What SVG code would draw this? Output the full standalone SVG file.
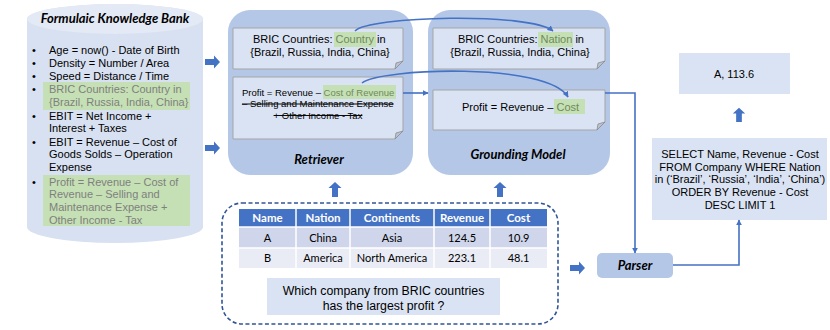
<svg xmlns="http://www.w3.org/2000/svg" width="830" height="330" viewBox="0 0 830 330">
<style>
.t{font-family:"Liberation Sans",Arial,sans-serif;font-size:11px;fill:#000}
.g{fill:#7f7f7f}
.gg{fill:#6f8a5c}
.lbl{font-family:Lato,"Open Sans",sans-serif;font-weight:bold;font-style:italic;font-size:13px;fill:#000}
.hl{fill:#c5e0b4}
.panel{fill:#b4c7e7}
.card{fill:#dae3f3;stroke:#a5a5a5;stroke-width:1}
.fold{fill:#b9c3d3;stroke:#8c8c8c;stroke-width:0.8}
.ba{fill:#4472c4}
.ln{fill:none;stroke:#4472c4;stroke-width:1.6}
.th{font-family:Lato,"Open Sans",sans-serif;font-weight:bold;font-size:11.5px;fill:#fff}
.td{font-family:Lato,"Open Sans",sans-serif;font-size:11px;fill:#000}
.st{text-decoration:line-through}
</style>
<defs>
<path id="ar" d="M0,-3 H9 V-6.5 L15,0 L9,6.5 V3 H0 Z"/>
<marker id="mk" viewBox="0 0 10 10" refX="9" refY="5" markerWidth="6" markerHeight="6" markerUnits="userSpaceOnUse" orient="auto">
<path d="M0,0 L10,5 L0,10 Z" fill="#4472c4"/>
</marker>
</defs>

<g id="knowledge-bank">
<path d="M27,19 A88,15 0 0 1 203,19 V227 A88,16 0 0 1 27,227 Z" fill="#d8e1f2"/>
<ellipse cx="115" cy="19" rx="88" ry="15" fill="#e3e9f5"/>
<text class="lbl" x="115" y="23" text-anchor="middle">Formulaic Knowledge Bank</text>
<rect class="hl" x="43" y="82" width="147" height="28"/>
<rect class="hl" x="43" y="175" width="147" height="51"/>
<g class="t">
<text class="t" x="32" y="54">•</text><text class="t" x="49" y="54">Age = now() - Date of Birth</text>
<text class="t" x="32" y="67">•</text><text class="t" x="49" y="67">Density = Number / Area</text>
<text class="t" x="32" y="80">•</text><text class="t" x="49" y="80">Speed = Distance / Time</text>
<text class="t" x="32" y="93">•</text><text class="t g" x="49" y="93">BRIC Countries: Country in</text>
<text class="t g" x="49" y="106">{Brazil, Russia, India, China}</text>
<text class="t" x="32" y="120">•</text><text class="t" x="49" y="120">EBIT = Net Income +</text>
<text class="t" x="49" y="132">Interest + Taxes</text>
<text class="t" x="32" y="146">•</text><text class="t" x="49" y="146">EBIT = Revenue – Cost of</text>
<text class="t" x="49" y="158">Goods Solds – Operation</text>
<text class="t" x="49" y="171">Expense</text>
<text class="t" x="32" y="186">•</text><text class="t g" x="49" y="186">Profit = Revenue – Cost of</text>
<text class="t g" x="49" y="198">Revenue – Selling and</text>
<text class="t g" x="49" y="211">Maintenance Expense +</text>
<text class="t g" x="49" y="224">Other Income - Tax</text>
</g>
</g>

<g id="retriever">
<rect class="panel" x="228" y="10" width="185" height="165" rx="22"/>
<path class="card" d="M233,28 H403 V61 L395,69 H233 Z"/>
<path class="fold" d="M403,61 L396,63 L395,69 Z"/>
<rect class="hl" x="334" y="32" width="42" height="15"/>
<text class="t" x="253" y="43">BRIC Countries: <tspan class="gg">Country</tspan> in</text>
<text class="t" x="320" y="56" text-anchor="middle">{Brazil, Russia, India, China}</text>
<path class="card" d="M233,77 H403 V131 L395,139 H233 Z"/>
<path class="fold" d="M403,131 L396,133 L395,139 Z"/>
<rect class="hl" x="323" y="85" width="73" height="14"/>
<text class="t" style="font-size:9.5px" x="242" y="95.5">Profit = Revenue – <tspan class="gg">Cost of Revenue</tspan></text>
<text class="t st" style="font-size:9.5px" x="242" y="107">– Selling and Maintenance Expense</text>
<text class="t st" style="font-size:9.5px" x="318" y="118.5" text-anchor="middle">+ Other Income - Tax</text>
<text class="lbl" x="319" y="164" text-anchor="middle">Retriever</text>
</g>

<g id="grounding-model">
<rect class="panel" x="428" y="10" width="182" height="165" rx="22"/>
<path class="card" d="M433,28 H605 V61 L597,69 H433 Z"/>
<path class="fold" d="M605,61 L598,63 L597,69 Z"/>
<rect class="hl" x="538" y="32" width="35" height="15"/>
<text class="t" x="458" y="43">BRIC Countries: <tspan class="gg">Nation</tspan> in</text>
<text class="t" x="520" y="56" text-anchor="middle">{Brazil, Russia, India, China}</text>
<path class="card" d="M433,90 H605 V122 L597,130 H433 Z"/>
<path class="fold" d="M605,122 L598,124 L597,130 Z"/>
<rect class="hl" x="554" y="99" width="31" height="15"/>
<text class="t" x="462" y="111">Profit = Revenue – <tspan class="gg">Cost</tspan></text>
<text class="lbl" x="518" y="159" text-anchor="middle">Grounding Model</text>
</g>

<g id="input">
<rect x="222" y="203" width="336" height="121" rx="20" fill="none" stroke="#2f5597" stroke-width="1.6" stroke-dasharray="4,2.5"/>
<rect x="239" y="209" width="308" height="18" fill="#4472c4"/>
<rect x="239" y="227" width="308" height="21" fill="#cfd5ea"/>
<rect x="239" y="248" width="308" height="20" fill="#e9ebf5"/>
<g stroke="#fff" stroke-width="1.5">
<line x1="239" y1="227" x2="547" y2="227"/>
<line x1="239" y1="248" x2="547" y2="248"/>
<line x1="296" y1="209" x2="296" y2="268"/>
<line x1="350" y1="209" x2="350" y2="268"/>
<line x1="434" y1="209" x2="434" y2="268"/>
<line x1="490" y1="209" x2="490" y2="268"/>
</g>
<g text-anchor="middle">
<text class="th" x="267.5" y="222">Name</text>
<text class="th" x="323" y="222">Nation</text>
<text class="th" x="392" y="222">Continents</text>
<text class="th" x="462" y="222">Revenue</text>
<text class="th" x="518.5" y="222">Cost</text>
<text class="td" x="267.5" y="241.5">A</text>
<text class="td" x="323" y="241.5">China</text>
<text class="td" x="392" y="241.5">Asia</text>
<text class="td" x="462" y="241.5">124.5</text>
<text class="td" x="518.5" y="241.5">10.9</text>
<text class="td" x="267.5" y="261.5">B</text>
<text class="td" x="323" y="261.5">America</text>
<text class="td" x="392" y="261.5">North America</text>
<text class="td" x="462" y="261.5">223.1</text>
<text class="td" x="518.5" y="261.5">48.1</text>
</g>
<rect x="267" y="278" width="233" height="37" fill="#dae3f3"/>
<text class="t" style="font-size:12.3px" x="383.5" y="294.5" text-anchor="middle">Which company from BRIC countries</text>
<text class="t" style="font-size:12.3px" x="383.5" y="309.5" text-anchor="middle">has the largest profit ?</text>
</g>

<g id="parser">
<rect x="597" y="253" width="76" height="25" rx="5" fill="#b4c7e7"/>
<text class="lbl" x="635" y="270" text-anchor="middle">Parser</text>
</g>

<g id="sql">
<rect x="652" y="138" width="175" height="82" fill="#dae3f3"/>
<g text-anchor="middle">
<text class="t" x="740" y="158">SELECT Name, Revenue - Cost</text>
<text class="t" x="740" y="170.5">FROM Company WHERE Nation</text>
<text class="t" x="740" y="183">in (‘Brazil’, ‘Russia’, ‘India’, ‘China’)</text>
<text class="t" x="740" y="196">ORDER BY Revenue - Cost</text>
<text class="t" x="740" y="209">DESC LIMIT 1</text>
</g>
</g>

<g id="answer">
<rect x="679" y="53" width="111" height="41" fill="#dae3f3"/>
<text class="t" x="734" y="78" text-anchor="middle">A, 113.6</text>
</g>

<g id="connectors">
<use href="#ar" class="ba" transform="translate(205,62)"/>
<use href="#ar" class="ba" transform="translate(205,148)"/>
<use href="#ar" class="ba" transform="translate(570,268)"/>
<use href="#ar" class="ba" transform="translate(335,197) rotate(-90)"/>
<use href="#ar" class="ba" transform="translate(500,197) rotate(-90)"/>
<use href="#ar" class="ba" transform="translate(739,122) rotate(-90) scale(0.95)"/>
<path class="ln" d="M355,31 C368,16 530,12 553,31" stroke-width="2" marker-end="url(#mk)"/>
<path class="ln" d="M362,83 C380,68 548,62 568,97" stroke-width="2" marker-end="url(#mk)"/>
<path class="ln" d="M403,93 H428" marker-end="url(#mk)"/>
<path class="ln" d="M605,93 H635 V253" marker-end="url(#mk)"/>
<path class="ln" d="M673,265 H739 V220" marker-end="url(#mk)"/>
</g>
</svg>
